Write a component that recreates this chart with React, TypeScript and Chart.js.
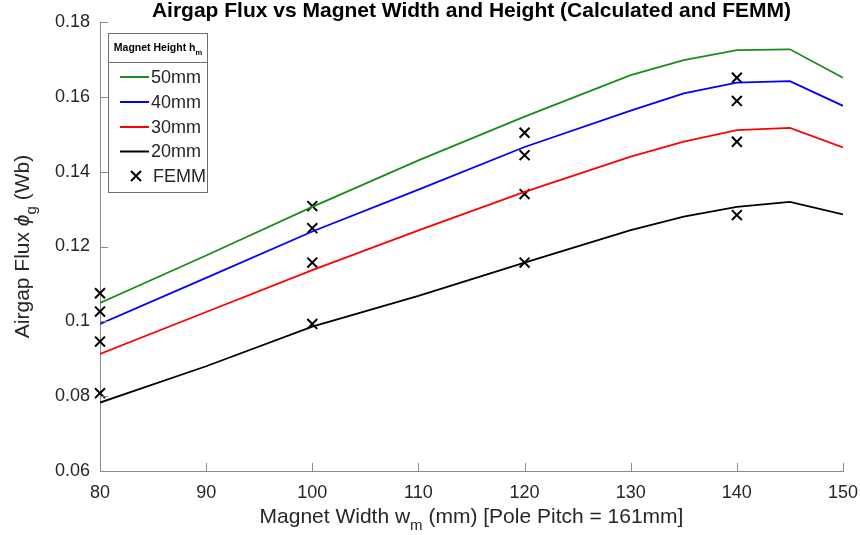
import { useEffect, useRef } from 'react';
import { Chart, registerables } from 'chart.js';
Chart.register(...registerables);

// Magnet widths (mm) of the calculated curves
const widths = [80, 90, 100, 110, 120, 130, 135, 140, 145, 150];
// Calculated airgap flux (Wb) for each magnet height
const flux50mm = [0.1049, 0.1176, 0.1306, 0.1430, 0.1547, 0.1658, 0.1698, 0.1725, 0.1727, 0.1651];
const flux40mm = [0.0993, 0.1116, 0.1240, 0.1352, 0.1466, 0.1563, 0.1609, 0.1638, 0.1642, 0.1576];
const flux30mm = [0.0913, 0.1025, 0.1137, 0.1243, 0.1346, 0.1440, 0.1480, 0.1511, 0.1517, 0.1465];
const flux20mm = [0.0783, 0.0880, 0.0986, 0.1068, 0.1157, 0.1244, 0.1280, 0.1306, 0.1319, 0.1286];
// FEMM results
const femmWidths = [80, 80, 80, 80, 100, 100, 100, 100, 120, 120, 120, 120, 140, 140, 140, 140];
const femmFlux = [0.1075, 0.1026, 0.0946, 0.0808, 0.1308, 0.1249, 0.1157, 0.0993, 0.1504, 0.1444, 0.1340, 0.1157, 0.1651, 0.1589, 0.1480, 0.1284];

const seriesLabels = ['50mm', '40mm', '30mm', '20mm', 'FEMM'];
const seriesColors = ['#1a8c1a', '#0000ff', '#ff0000', '#000000', '#000000'];

const titleText = 'Airgap Flux vs Magnet Width and Height (Calculated and FEMM)';
const legendHeader = 'Magnet Height h';
const legendHeaderSub = 'm';

const FONT = '"Liberation Sans", Arial, sans-serif';
const TEXT = '#262626';
const AXIS = '#8a8a8a';

function drawRuns(ctx: CanvasRenderingContext2D, runs: { t: string; f: string; dy: number }[], cx: number, y: number) {
  let total = 0;
  for (const r of runs) { ctx.font = r.f; total += ctx.measureText(r.t).width; }
  let x = cx - total / 2;
  ctx.textAlign = 'left';
  for (const r of runs) {
    ctx.font = r.f;
    ctx.fillText(r.t, x, y + r.dy);
    x += ctx.measureText(r.t).width;
  }
}

const overlay = {
  id: 'overlay',
  afterDraw(chart: any) {
    const ctx: CanvasRenderingContext2D = chart.ctx;
    const xs = chart.scales.x;
    const ys = chart.scales.y;
    const a = chart.chartArea;
    ctx.save();
    // inward ticks
    ctx.strokeStyle = AXIS;
    ctx.lineWidth = 1;
    ctx.beginPath();
    for (const t of xs.ticks) {
      const px = Math.round(xs.getPixelForValue(t.value)) + 0.5;
      ctx.moveTo(px, a.bottom);
      ctx.lineTo(px, a.bottom - 8);
    }
    for (const t of ys.ticks) {
      const py = Math.round(ys.getPixelForValue(t.value)) + 0.5;
      ctx.moveTo(a.left, py);
      ctx.lineTo(a.left + 8, py);
    }
    ctx.stroke();

    // title
    ctx.fillStyle = '#000';
    ctx.textBaseline = 'middle';
    ctx.textAlign = 'center';
    ctx.font = `bold 21px ${FONT}`;
    ctx.fillText(titleText, (a.left + a.right) / 2, 11);

    // x title
    ctx.fillStyle = TEXT;
    ctx.textBaseline = 'alphabetic';
    drawRuns(ctx, [
      { t: 'Magnet Width w', f: `21px ${FONT}`, dy: 0 },
      { t: 'm', f: `15px ${FONT}`, dy: 7 },
      { t: ' (mm) [Pole Pitch = 161mm]', f: `21px ${FONT}`, dy: 0 },
    ], (a.left + a.right) / 2, 523);

    // y title
    ctx.save();
    ctx.translate(29, (a.top + a.bottom) / 2);
    ctx.rotate(-Math.PI / 2);
    drawRuns(ctx, [
      { t: 'Airgap Flux ', f: `21px ${FONT}`, dy: 0 },
      { t: '\u03D5', f: `italic 21px ${FONT}`, dy: 0 },
      { t: 'g', f: `15px ${FONT}`, dy: 7 },
      { t: ' (Wb)', f: `21px ${FONT}`, dy: 0 },
    ], 0, 0);
    ctx.restore();

    // legend
    const lx = 108.5, ly = 33.5, lw = 99, lh = 159;
    ctx.fillStyle = '#fff';
    ctx.fillRect(lx, ly, lw, lh);
    ctx.strokeStyle = '#6e6e6e';
    ctx.lineWidth = 1;
    ctx.strokeRect(lx, ly, lw, lh);
    ctx.beginPath();
    ctx.moveTo(lx, 62.5);
    ctx.lineTo(lx + lw, 62.5);
    ctx.stroke();
    ctx.fillStyle = '#000';
    drawRuns(ctx, [
      { t: legendHeader, f: `bold 10.5px ${FONT}`, dy: 0 },
      { t: legendHeaderSub, f: `bold 7.5px ${FONT}`, dy: 4 },
    ], lx + lw / 2, 51);

    const rows = [77, 102, 127, 151.5, 176];
    chart.data.datasets.forEach((ds: any, i: number) => {
      const ry = rows[i];
      ctx.strokeStyle = ds.borderColor;
      ctx.lineWidth = 2;
      ctx.beginPath();
      if (ds.showLine === false) {
        const c = 136, r = 5;
        ctx.moveTo(c - r, ry - r); ctx.lineTo(c + r, ry + r);
        ctx.moveTo(c + r, ry - r); ctx.lineTo(c - r, ry + r);
      } else {
        ctx.moveTo(120, ry); ctx.lineTo(149, ry);
      }
      ctx.stroke();
      ctx.fillStyle = TEXT;
      ctx.font = `18px ${FONT}`;
      ctx.textAlign = 'left';
      ctx.textBaseline = 'middle';
      ctx.fillText(ds.label, ds.showLine === false ? 153 : 151, ry + 1);
    });
    ctx.restore();
  },
};

function toXY(xsArr: number[], ysArr: number[]) {
  return xsArr.map((x, i) => ({ x, y: ysArr[i] }));
}

export default function App() {
  const ref = useRef<HTMLCanvasElement | null>(null);
  useEffect(() => {
    if (!ref.current) return;
    const curves = [flux50mm, flux40mm, flux30mm, flux20mm];
    const datasets: any[] = curves.map((vals, i) => ({
      label: seriesLabels[i],
      data: toXY(widths, vals),
      borderColor: seriesColors[i],
      backgroundColor: seriesColors[i],
      borderWidth: 1.8,
      pointRadius: 0,
      tension: 0,
      showLine: true,
    }));
    datasets.push({
      label: seriesLabels[4],
      data: toXY(femmWidths, femmFlux),
      borderColor: seriesColors[4],
      backgroundColor: seriesColors[4],
      showLine: false,
      pointStyle: 'crossRot',
      pointRadius: 7,
      pointBorderWidth: 2,
      clip: false,
    });
    const chart = new Chart(ref.current, {
      type: 'scatter',
      data: { datasets },
      options: {
        animation: false,
        responsive: false,
        devicePixelRatio: 1,
        layout: { padding: { top: 22, right: 17, left: 0, bottom: 0 } },
        plugins: { legend: { display: false }, title: { display: false }, tooltip: { enabled: false } },
        scales: {
          x: {
            type: 'linear',
            min: 80,
            max: 150,
            grid: { display: false },
            border: { display: true, color: AXIS, width: 1 },
            ticks: { stepSize: 10, color: TEXT, font: { family: FONT, size: 18 }, padding: 3, maxRotation: 0 },
            afterFit: (s: any) => { s.height = 64; s.paddingLeft = 0; s.paddingRight = 0; },
          },
          y: {
            type: 'linear',
            min: 0.06,
            max: 0.18,
            grid: { display: false },
            border: { display: true, color: AXIS, width: 1 },
            ticks: {
              stepSize: 0.02,
              color: TEXT,
              font: { family: FONT, size: 18 },
              padding: 2,
              callback: (v: any) => String(Number(Number(v).toFixed(2))),
            },
            afterFit: (s: any) => { s.width = 100; s.paddingTop = 0; s.paddingBottom = 0; },
          },
        },
      },
      plugins: [overlay],
    });
    return () => chart.destroy();
  }, []);
  return (
    <div style={{ position: 'absolute', left: 0, top: 0, width: 860, height: 535, background: '#fff' }}>
      <canvas ref={ref} width={860} height={535} />
    </div>
  );
}
